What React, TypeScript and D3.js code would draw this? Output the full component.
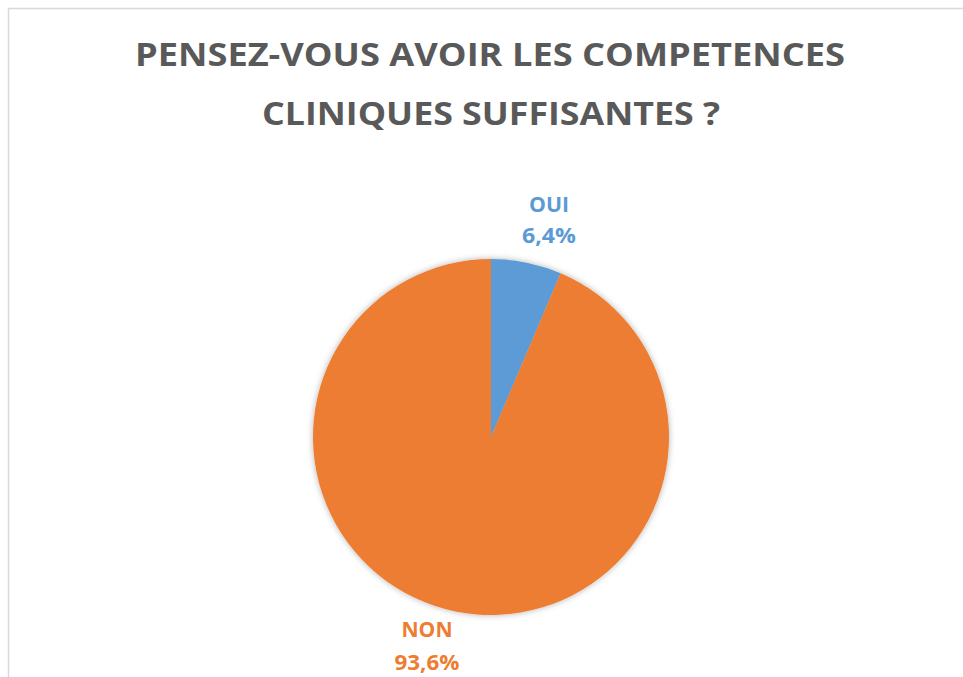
import React from "react";
import * as d3 from "d3";

const categories = ["OUI", "NON"];
const values = [6.4, 93.6];
const valueLabels = ["6,4%", "93,6%"];
const colors = ["#5B9BD5", "#ED7D31"];
const titleLines = ["PENSEZ-VOUS AVOIR LES COMPETENCES", "CLINIQUES SUFFISANTES ?"];

export default function App() {
  const W = 963, H = 677;
  const cx = 491, cy = 437, r = 178;
  const data = categories.map((c, i) => ({ c, v: values[i], lab: valueLabels[i], col: colors[i] }));
  const pie = d3.pie<any>().value((d) => d.v).sort(null);
  const arcs = pie(data);
  const arc = d3.arc<any>().innerRadius(0).outerRadius(r);
  const labelPos = [
    { x: 549, y1: 212, y2: 243, w1: 40, w2: 54 },
    { x: 427, y1: 637, y2: 670, w1: 51, w2: 65 },
  ];
  const font = "'Open Sans', 'DejaVu Sans', sans-serif";
  return (
    <svg width={W} height={H} style={{ position: "absolute", left: 0, top: 0 }}>
      <defs>
        <filter id="sh" x="-20%" y="-20%" width="140%" height="140%">
          <feDropShadow dx="0" dy="0" stdDeviation="3" floodColor="#000" floodOpacity="0.3" />
        </filter>
      </defs>
      <rect x={0} y={0} width={W} height={H} fill="#fff" />
      <rect x={8.5} y={8.5} width={W + 10} height={H + 10} fill="#fff" stroke="#d9d9d9" strokeWidth={1.5} />
      <text x={490} y={66} textAnchor="middle" fontFamily={font} fontWeight="bold" fontSize={30} fill="#595959" textLength={710} lengthAdjust="spacingAndGlyphs" transform="translate(0,66) scale(1,1.1) translate(0,-66)">{titleLines[0]}</text>
      <text x={491} y={125} textAnchor="middle" fontFamily={font} fontWeight="bold" fontSize={30} fill="#595959" textLength={458} lengthAdjust="spacingAndGlyphs" transform="translate(0,125) scale(1,1.1) translate(0,-125)">{titleLines[1]}</text>
      <g transform={`translate(${cx},${cy})`} filter="url(#sh)">
        {arcs.map((a, i) => (
          <path key={i} d={arc(a) as string} fill={a.data.col} />
        ))}
      </g>
      {data.map((d, i) => (
        <g key={i} fontFamily={font} fontWeight="bold" fontSize={21} fill={d.col} textAnchor="middle">
          <text x={labelPos[i].x} y={labelPos[i].y1} textLength={labelPos[i].w1} lengthAdjust="spacingAndGlyphs">{d.c}</text>
          <text x={labelPos[i].x} y={labelPos[i].y2} textLength={labelPos[i].w2} lengthAdjust="spacingAndGlyphs">{d.lab}</text>
        </g>
      ))}
    </svg>
  );
}
